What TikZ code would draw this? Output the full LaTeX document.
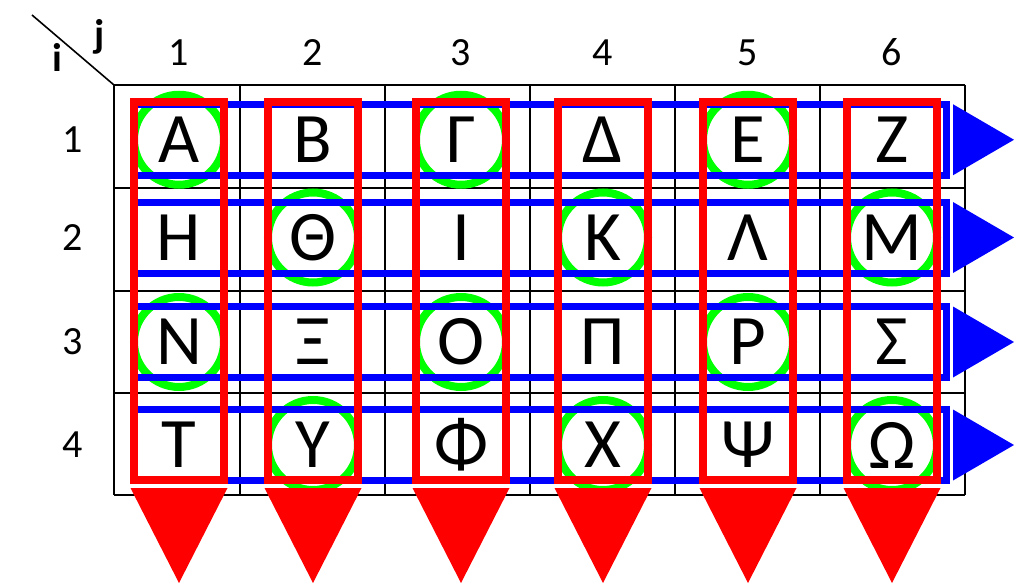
\documentclass[tikz,border=0pt]{standalone}
\usepackage{fontspec}
\setmainfont{Carlito}
\usetikzlibrary{calc,positioning}
\tikzset{
  gridline/.style={draw=black, line width=1.6pt},
  ring/.style={draw=green, line width=8pt},
  rowbox/.style={draw=blue, line width=7pt},
  colbox/.style={draw=red, line width=8pt},
  rowtip/.style={fill=blue},
  coltip/.style={fill=red},
  glyph/.style={inner sep=0pt, font=\fontsize{71}{80}\selectfont},
  idx/.style={inner sep=0pt, font=\fontsize{40}{48}\selectfont},
  hdr/.style={inner sep=0pt, anchor=base, font=\fontsize{40}{48}\selectfont\bfseries}
}

\begin{document}
\begin{tikzpicture}[x=1pt,y=-1pt]
  \useasboundingbox (0,0) rectangle (1014,583);
  \foreach \x in {114,240,385,530,675,820,965} \draw[gridline] (\x,85)--(\x,495);
  \foreach \y in {85,188,291,393,495} \draw[gridline] (114,\y)--(965,\y);
  \draw[gridline] (32,15)--(114,85);
  \node[hdr] (ilab) at (57.5,72) {i};
  \node[hdr] (jlab) at (100,48) {j};
  \foreach \x [count=\c] in {179,313,461,603,748,892} \node[idx] (k\c) at (\x,52.5) {\c};
  \foreach \r/\y/\row in {1/139.75/{Α,Β,Γ,Δ,Ε,Ζ},2/237.5/{Η,Θ,Ι,Κ,Λ,Μ},3/342/{Ν,Ξ,Ο,Π,Ρ,Σ},4/445/{Τ,Υ,Φ,Χ,Ψ,Ω}}{
    \node[idx] (r\r) at (73,\y) {\r};
    \foreach \l [count=\c] in \row {
      \pgfmathsetmacro\x{{179,313,461,603,748,892}[\c-1]}
      \node[glyph] (c\r\c) at (\x,\y) {\l};
    }
  }
  \foreach \n in {c11,c13,c15,c22,c24,c26,c31,c33,c35,c42,c44,c46}
    \draw[ring] (\n.center) circle[radius=45];
  \foreach \r in {1,...,4}{
    \draw[rowbox] ($(c\r1.center)+(-45,-35.5)$) rectangle ($(c\r6.center)+(54.5,35.5)$);
    \fill[rowtip] ($(c\r6.center)+(61,-35.5)$) -- ($(c\r6.center)+(61,35.5)$) -- ($(c\r6.center)+(122,0)$) -- cycle;
  }
  \foreach \c in {1,...,6}{
    \draw[colbox] ($(c1\c.center)+(-45,-37.75)$) rectangle ($(c4\c.center)+(45,35)$);
    \fill[coltip] ($(c4\c.center)+(-48.5,43)$) -- ($(c4\c.center)+(48.5,43)$) -- ($(c4\c.center)+(0,138)$) -- cycle;
  }
\end{tikzpicture}
\end{document}
